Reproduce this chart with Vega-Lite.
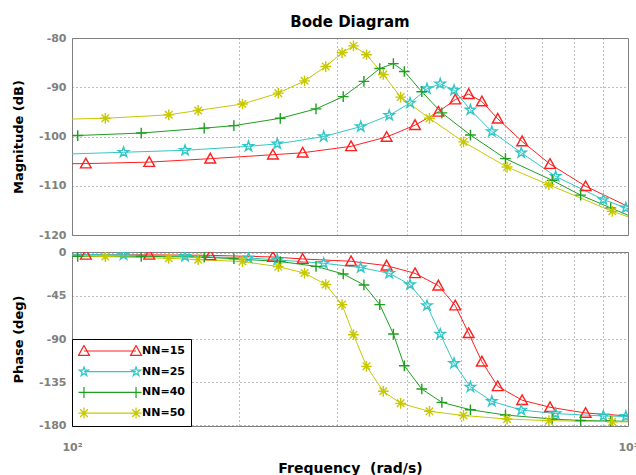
{
  "$schema": "https://vega.github.io/schema/vega-lite/v6.json",
  "background": "white",
  "padding": {"left": 12, "top": 14, "right": 0, "bottom": 0},
  "config": {
    "font": "DejaVu Sans",
    "view": {"stroke": "#808080", "strokeWidth": 1},
    "axis": {
      "labelFont": "DejaVu Sans", "labelFontWeight": "bold", "labelFontSize": 11, "labelColor": "#808080",
      "titleFont": "DejaVu Sans", "titleFontWeight": "bold", "titleFontSize": 13, "titleColor": "#000000",
      "grid": true, "gridColor": "#7a7a7a", "gridDash": [1, 3], "gridOpacity": 1, "gridWidth": 1,
      "domain": false, "ticks": false, "tickSize": 0, "labelOverlap": false, "labelFlush": false
    }
  },
  "datasets": {
    "bode": [
      {"s":"NN=15","f":81,"m":-105.6,"p":-1.5},
      {"s":"NN=15","f":105.9,"m":-105.5,"p":-2},
      {"s":"NN=15","f":137.7,"m":-105.2,"p":-2},
      {"s":"NN=15","f":177.3,"m":-104.5,"p":-2.5},
      {"s":"NN=15","f":229.8,"m":-103.7,"p":-4.2},
      {"s":"NN=15","f":259.9,"m":-103.3,"p":-6.3},
      {"s":"NN=15","f":317.6,"m":-102.0,"p":-8.7},
      {"s":"NN=15","f":368,"m":-100.1,"p":-13.3},
      {"s":"NN=15","f":414,"m":-97.7,"p":-21.3},
      {"s":"NN=15","f":456,"m":-95.0,"p":-34.2},
      {"s":"NN=15","f":489,"m":-92.5,"p":-55},
      {"s":"NN=15","f":517,"m":-91.4,"p":-84},
      {"s":"NN=15","f":546,"m":-92.9,"p":-113.7},
      {"s":"NN=15","f":583,"m":-96.4,"p":-139.5},
      {"s":"NN=15","f":645,"m":-101.0,"p":-154},
      {"s":"NN=15","f":724,"m":-105.6,"p":-161.4},
      {"s":"NN=15","f":839,"m":-110.1,"p":-167.4},
      {"s":"NN=15","f":1030,"m":-114.9,"p":-171},
      {"s":"NN=25","f":96,"m":-103.6,"p":-1.3},
      {"s":"NN=25","f":123.8,"m":-103.2,"p":-2},
      {"s":"NN=25","f":159.7,"m":-102.8,"p":-3.5},
      {"s":"NN=25","f":207.7,"m":-102.0,"p":-5.2},
      {"s":"NN=25","f":234,"m":-101.5,"p":-7.3},
      {"s":"NN=25","f":283.6,"m":-100.0,"p":-10.8},
      {"s":"NN=25","f":330.6,"m":-98.0,"p":-15.3},
      {"s":"NN=25","f":372,"m":-95.7,"p":-21.3},
      {"s":"NN=25","f":405.5,"m":-93.2,"p":-33.1},
      {"s":"NN=25","f":435,"m":-90.3,"p":-55},
      {"s":"NN=25","f":459.5,"m":-89.3,"p":-84.8},
      {"s":"NN=25","f":486.6,"m":-90.6,"p":-115.5},
      {"s":"NN=25","f":520.7,"m":-94.6,"p":-140.2},
      {"s":"NN=25","f":569,"m":-99.0,"p":-155.2},
      {"s":"NN=25","f":642.7,"m":-103.3,"p":-164.3},
      {"s":"NN=25","f":741,"m":-108.1,"p":-168},
      {"s":"NN=25","f":903,"m":-112.8,"p":-170.5},
      {"s":"NN=25","f":991,"m":-114.5,"p":-171},
      {"s":"NN=25","f":1080,"m":-116.5,"p":-171.5},
      {"s":"NN=40","f":79,"m":-100.1,"p":-3},
      {"s":"NN=40","f":102.4,"m":-99.8,"p":-3.5},
      {"s":"NN=40","f":133.2,"m":-99.3,"p":-3.5},
      {"s":"NN=40","f":172.9,"m":-98.3,"p":-4.5},
      {"s":"NN=40","f":195.5,"m":-97.8,"p":-6},
      {"s":"NN=40","f":236.9,"m":-96.3,"p":-9},
      {"s":"NN=40","f":274.7,"m":-94.4,"p":-14},
      {"s":"NN=40","f":307.5,"m":-91.9,"p":-22},
      {"s":"NN=40","f":335,"m":-88.8,"p":-33.5},
      {"s":"NN=40","f":357.7,"m":-86.2,"p":-54},
      {"s":"NN=40","f":378.5,"m":-85.2,"p":-84.8},
      {"s":"NN=40","f":396,"m":-86.8,"p":-118},
      {"s":"NN=40","f":425.7,"m":-90.9,"p":-142.3},
      {"s":"NN=40","f":462.6,"m":-95.2,"p":-156.3},
      {"s":"NN=40","f":520.7,"m":-99.7,"p":-164},
      {"s":"NN=40","f":602,"m":-104.5,"p":-169.5},
      {"s":"NN=40","f":730.6,"m":-108.9,"p":-173.7},
      {"s":"NN=40","f":822,"m":-111.9,"p":-175.2},
      {"s":"NN=40","f":931,"m":-114.5,"p":-175.8},
      {"s":"NN=40","f":1060,"m":-117.2,"p":-176.2},
      {"s":"NN=50","f":88,"m":-96.6,"p":-1.2},
      {"s":"NN=50","f":114.8,"m":-96.3,"p":-3.8},
      {"s":"NN=50","f":149.3,"m":-95.6,"p":-5.6},
      {"s":"NN=50","f":168.6,"m":-94.7,"p":-7},
      {"s":"NN=50","f":202.6,"m":-93.4,"p":-9},
      {"s":"NN=50","f":235,"m":-91.2,"p":-14.3},
      {"s":"NN=50","f":262,"m":-88.7,"p":-21},
      {"s":"NN=50","f":286,"m":-85.8,"p":-33},
      {"s":"NN=50","f":306,"m":-83.0,"p":-54},
      {"s":"NN=50","f":320.8,"m":-81.6,"p":-85.5},
      {"s":"NN=50","f":338.6,"m":-83.4,"p":-118.6},
      {"s":"NN=50","f":363,"m":-87.4,"p":-144.7},
      {"s":"NN=50","f":390,"m":-92.0,"p":-157.3},
      {"s":"NN=50","f":439.5,"m":-96.3,"p":-165.7},
      {"s":"NN=50","f":506,"m":-101.1,"p":-170},
      {"s":"NN=50","f":606,"m":-106.2,"p":-173.7},
      {"s":"NN=50","f":720.6,"m":-109.8,"p":-175.4},
      {"s":"NN=50","f":937,"m":-115.2,"p":-176.5},
      {"s":"NN=50","f":1080,"m":-117.6,"p":-177}
    ]
  },
  "spacing": 5,
  "resolve": {
    "scale": {"color": "independent", "shape": "independent"},
    "legend": {"color": "independent", "shape": "independent"}
  },
  "vconcat": [
    {
      "width": 556,
      "height": 197,
      "title": {"text": "Bode Diagram", "font": "DejaVu Sans", "fontSize": 15, "fontWeight": "bold", "color": "#000000", "anchor": "middle", "frame": "group", "baseline": "alphabetic", "offset": -10},
      "data": {"name": "bode"},
      "encoding": {
        "x": {"field": "f", "type": "quantitative",
          "scale": {"type": "log", "domain": [100, 1000], "nice": false},
          "axis": {"values": [200, 300, 400, 500, 600, 700, 800, 900], "labels": false, "title": null}},
        "y": {"field": "m", "type": "quantitative",
          "scale": {"domain": [-120, -80], "nice": false, "zero": false},
          "axis": {"values": [-120, -110, -100, -90, -80], "labelExpr": "'' + datum.value", "labelPadding": 6,
            "title": "Magnitude (dB)", "titleX": -49.5, "titleBaseline": "alphabetic"}},
        "color": {"field": "s", "type": "nominal",
          "scale": {"domain": ["NN=15", "NN=25", "NN=40", "NN=50"], "range": ["#ff1f1f", "#33c6c6", "#1f9f1f", "#c8c800"]},
          "legend": null}
      },
      "layer": [
        {"mark": {"type": "line", "strokeWidth": 1, "clip": true}},
        {"mark": {"type": "point", "filled": false, "strokeWidth": 1.4, "size": 115, "opacity": 1, "clip": true},
          "encoding": {"shape": {"field": "s", "type": "nominal",
            "scale": {"domain": ["NN=15", "NN=25", "NN=40", "NN=50"],
              "range": ["M-1,0.8L0,-1L1,0.8Z",
                "M0,-1L0.2245,-0.309L0.951,-0.309L0.363,0.118L0.588,0.809L0,0.382L-0.588,0.809L-0.363,0.118L-0.951,-0.309L-0.2245,-0.309Z",
                "M-1,0L1,0M0,-1L0,1",
                "M-1,0L1,0M0,-1L0,1M-0.7,-0.7L0.7,0.7M-0.7,0.7L0.7,-0.7"]},
            "legend": null}}}
      ]
    },
    {
      "width": 556,
      "height": 174,
      "data": {"name": "bode"},
      "encoding": {
        "x": {"field": "f", "type": "quantitative",
          "scale": {"type": "log", "domain": [100, 1000], "nice": false},
          "axis": {"values": [100, 200, 300, 400, 500, 600, 700, 800, 900, 1000],
            "labelExpr": "datum.value == 100 ? '10²' : datum.value == 1000 ? '10³' : ''",
            "labelBaseline": "alphabetic", "labelPadding": 24,
            "title": "Frequency\u00a0 (rad/s)", "titleFontSize": 14, "titleBaseline": "alphabetic", "titleY": 46}},
        "y": {"field": "p", "type": "quantitative",
          "scale": {"domain": [-181, 1], "nice": false, "zero": false},
          "axis": {"values": [-180, -135, -90, -45, 0], "labelExpr": "'' + datum.value", "labelPadding": 6,
            "title": "Phase (deg)", "titleX": -49.5, "titleBaseline": "alphabetic"}},
        "color": {"field": "s", "type": "nominal",
          "scale": {"domain": ["NN=15", "NN=25", "NN=40", "NN=50"], "range": ["#ff1f1f", "#33c6c6", "#1f9f1f", "#c8c800"]},
          "legend": {
            "title": null, "orient": "bottom-left", "offset": 0, "padding": 6, "rowPadding": 8.7, "clipHeight": 12,
            "symbolSize": 3844, "labelOffset": 0,
            "labelFont": "DejaVu Sans", "labelFontWeight": "bold", "labelFontSize": 11, "labelColor": "#000000",
            "fillColor": "#ffffff", "strokeColor": "#000000", "symbolStrokeWidth": 1.2,
            "encode": {"symbols": {"update": {
              "shape": {"signal": "datum.value === 'NN=15' ? 'M-0.84,0L0.84,0M-1.017,0.142L-0.84,-0.177L-0.663,0.142ZM0.663,0.142L0.84,-0.177L1.017,0.142Z' : datum.value === 'NN=25' ? 'M-0.84,0L0.84,0M-0.84,-0.155L-0.805,-0.048L-0.693,-0.048L-0.784,0.018L-0.749,0.125L-0.84,0.059L-0.931,0.125L-0.896,0.018L-0.987,-0.048L-0.875,-0.048ZM0.84,-0.155L0.875,-0.048L0.987,-0.048L0.896,0.018L0.931,0.125L0.84,0.059L0.749,0.125L0.784,0.018L0.693,-0.048L0.805,-0.048Z' : datum.value === 'NN=40' ? 'M-1.017,0L1.017,0M-0.84,-0.177L-0.84,0.177M0.84,-0.177L0.84,0.177' : 'M-1.017,0L1.017,0M-0.84,-0.177L-0.84,0.177M0.84,-0.177L0.84,0.177M-0.965,-0.125L-0.715,0.125M-0.965,0.125L-0.715,-0.125M0.715,-0.125L0.965,0.125M0.715,0.125L0.965,-0.125'"},
              "stroke": {"signal": "datum.value === 'NN=15' ? '#ff1f1f' : datum.value === 'NN=25' ? '#33c6c6' : datum.value === 'NN=40' ? '#1f9f1f' : '#c8c800'"},
              "fill": {"value": "transparent"},
              "strokeWidth": {"value": 1.2},
              "size": {"value": 3844},
              "opacity": {"value": 1}
            }}}
          }}
      },
      "layer": [
        {"mark": {"type": "line", "strokeWidth": 1, "clip": true}},
        {"transform": [{"filter": "datum.s === 'NN=15'"}],
          "mark": {"type": "point", "shape": "M-1,0.8L0,-1L1,0.8Z", "filled": false, "strokeWidth": 1.4, "size": 115, "opacity": 1, "clip": true}},
        {"transform": [{"filter": "datum.s === 'NN=25'"}],
          "mark": {"type": "point", "shape": "M0,-1L0.2245,-0.309L0.951,-0.309L0.363,0.118L0.588,0.809L0,0.382L-0.588,0.809L-0.363,0.118L-0.951,-0.309L-0.2245,-0.309Z", "filled": false, "strokeWidth": 1.4, "size": 115, "opacity": 1, "clip": true}},
        {"transform": [{"filter": "datum.s === 'NN=40'"}],
          "mark": {"type": "point", "shape": "M-1,0L1,0M0,-1L0,1", "filled": false, "strokeWidth": 1.4, "size": 115, "opacity": 1, "clip": true}},
        {"transform": [{"filter": "datum.s === 'NN=50'"}],
          "mark": {"type": "point", "shape": "M-1,0L1,0M0,-1L0,1M-0.7,-0.7L0.7,0.7M-0.7,0.7L0.7,-0.7", "filled": false, "strokeWidth": 1.4, "size": 115, "opacity": 1, "clip": true}}
      ]
    }
  ]
}
